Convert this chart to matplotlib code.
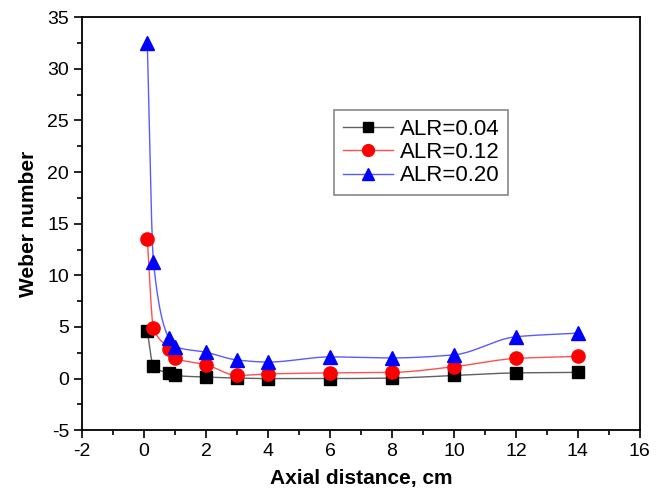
import numpy as np
import matplotlib
matplotlib.use("Agg")
import matplotlib.pyplot as plt
from matplotlib.ticker import MultipleLocator

plt.rcParams['font.family'] = ['Liberation Sans', 'DejaVu Sans']
plt.rcParams['axes.unicode_minus'] = False

# axial positions (cm) and Weber number for each air-to-liquid ratio
axial = [0.1, 0.3, 0.8, 1.0, 2, 3, 4, 6, 8, 10, 12, 14]
we_004 = [4.6, 1.2, 0.5, 0.3, 0.15, 0.05, 0.0, 0.0, 0.05, 0.3, 0.55, 0.6]
we_012 = [13.5, 4.9, 2.9, 2.0, 1.35, 0.3, 0.45, 0.55, 0.6, 1.15, 1.95, 2.15]
we_020 = [32.5, 11.3, 3.9, 3.1, 2.55, 1.8, 1.6, 2.1, 2.0, 2.3, 4.05, 4.4]
labels = ['ALR=0.04', 'ALR=0.12', 'ALR=0.20']


def pchip(x, y, xs):
	""" Shape preserving cubic through the points, drawn between the markers. """
	x = np.asarray(x, float)
	y = np.asarray(y, float)
	h = np.diff(x)
	d = np.diff(y) / h
	m = np.zeros_like(y)
	for k in range(1, len(x) - 1):
		if d[k - 1] * d[k] > 0:
			w1 = 2 * h[k] + h[k - 1]
			w2 = h[k] + 2 * h[k - 1]
			m[k] = (w1 + w2) / (w1 / d[k - 1] + w2 / d[k])
	m[0] = d[0]
	m[-1] = d[-1]
	idx = np.clip(np.searchsorted(x, xs) - 1, 0, len(x) - 2)
	t = (xs - x[idx]) / h[idx]
	h00 = 2 * t**3 - 3 * t**2 + 1
	h10 = t**3 - 2 * t**2 + t
	h01 = -2 * t**3 + 3 * t**2
	h11 = t**3 - t**2
	return h00 * y[idx] + h10 * h[idx] * m[idx] + h01 * y[idx + 1] + h11 * h[idx] * m[idx + 1]


fig = plt.figure(figsize=(6.63, 4.9), dpi=100)
ax = fig.add_axes([0.124, 0.122, 0.841, 0.843])

xs = np.linspace(axial[0], axial[-1], 800)
series = [
	(we_004, 's', 'black', '#606060', 8.5),
	(we_012, 'o', 'red', '#ff5050', 9.5),
	(we_020, '^', 'blue', '#5a5aff', 10),
]
for (vals, mk, mc, lc, ms), lab in zip(series, labels):
	ax.plot(xs, pchip(axial, vals, xs), color=lc, lw=1.0, zorder=2)
	ax.plot(axial, vals, ls='none', marker=mk, color=mc, ms=ms, zorder=3)
	# legend proxy: line with marker
	ax.plot([], [], color=lc, lw=1.0, marker=mk, mfc=mc, mec=mc, ms=ms - 1, label=lab)

ax.set_xlim(-2, 16)
ax.set_ylim(-5, 35)
ax.xaxis.set_major_locator(MultipleLocator(2))
ax.xaxis.set_minor_locator(MultipleLocator(1))
ax.yaxis.set_major_locator(MultipleLocator(5))
ax.yaxis.set_minor_locator(MultipleLocator(2.5))
ax.tick_params(which='both', direction='out', top=False, right=False, labelsize=14)
ax.tick_params(which='major', length=6, width=1.2)
ax.tick_params(which='minor', length=3.5, width=1.2)
for s in ax.spines.values():
	s.set_linewidth(1.3)

ax.set_xlabel('Axial distance, cm', fontsize=15, fontweight='bold', labelpad=6)
ax.set_ylabel('Weber number', fontsize=15, fontweight='bold', labelpad=7)

leg = ax.legend(loc='upper left', bbox_to_anchor=(0.4516, 0.775), fontsize=16,
	numpoints=1, handlelength=2.25, fancybox=False, framealpha=1,
	edgecolor='#888888', borderpad=0.4, labelspacing=0.1, handletextpad=0.3,
	borderaxespad=0)
leg.get_frame().set_linewidth(1.2)

fig.savefig('out.png', dpi=100)
